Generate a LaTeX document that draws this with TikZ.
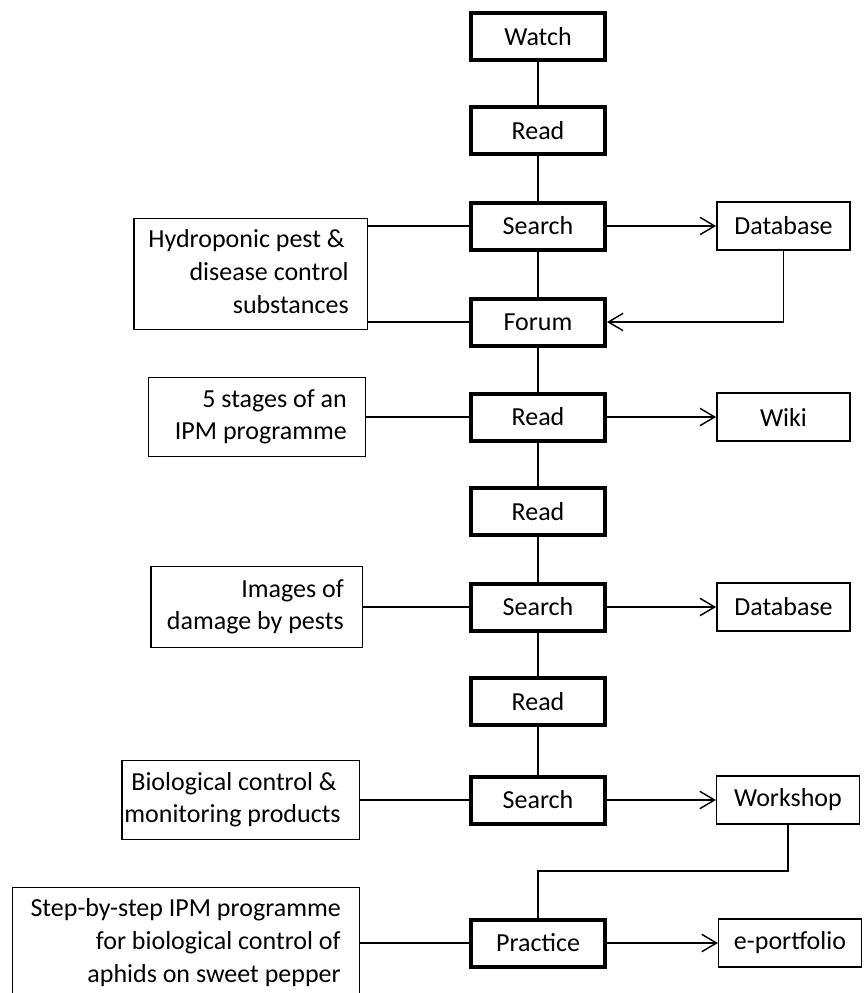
\documentclass[tikz,border=0pt]{standalone}
\usepackage{fontspec}
\setmainfont{Carlito}
\usetikzlibrary{arrows.meta}
\newcommand{\rlines}[1]{\begin{tabular}{@{}r@{}}#1\end{tabular}}
\newcommand{\amp}{\&\kern3pt}
\begin{document}
\begin{tikzpicture}[x=0.75pt,y=-0.75pt,
  every node/.style={font=\fontsize{19.5}{24.5}\selectfont, inner sep=0pt},
  mainbox/.style={draw, line width=3pt, minimum width=100.5pt, minimum height=35.25pt},
  sidebox/.style={draw, line width=1.1pt, minimum width=100pt, minimum height=36pt},
  srcbox/.style={draw, line width=1.1pt},
  srctext/.style={anchor=east, xshift=-14.25pt},
  link/.style={line width=1.1pt},
  arr/.style={link, -{Straight Barb[length=11pt,width=13pt,line width=1.1pt]}}
]
\useasboundingbox (0,0) rectangle (866,993);
\clip (0,0) rectangle (866,993);

% main column
\node[mainbox] (watch)    at (538,36.5)  {Watch};
\node[mainbox] (read1)    at (538,130.5) {Read};
\node[mainbox] (search1)  at (538,226)   {Search};
\node[mainbox] (forum)    at (538,322)   {Forum};
\node[mainbox] (read2)    at (538,417)   {Read};
\node[mainbox] (read3)    at (538,511.5) {Read};
\node[mainbox] (search2)  at (538,607)   {Search};
\node[mainbox] (read4)    at (538,701.5) {Read};
\node[mainbox] (search3)  at (538,800)   {Search};
\node[mainbox] (practice) at (538,943)   {Practice};

% right column
\node[sidebox] (db1)      at (783.5,226) {Database};
\node[sidebox] (wiki)     at (783.5,417) {Wiki};
\node[sidebox] (db2)      at (783.5,607) {Database};
\node[sidebox, minimum width=107pt] (workshop) at (788,800) {Workshop};
\node[sidebox, minimum width=107pt] (eport)    at (790,943) {e-portfolio};

% left column boxes
\node[srcbox, minimum width=175.1pt, minimum height=82.9pt] (hydro)  at (250.5,274) {};
\node[srctext] (hydrotext) at (hydro.east) {\rlines{Hydroponic pest \amp\\disease control\\substances}};
\node[srcbox, minimum width=162.4pt, minimum height=58.9pt] (ipm)    at (257,417) {};
\node[srctext] (ipmtext) at (ipm.east) {\rlines{5 stages of an\\IPM programme}};
\node[srcbox, minimum width=158.6pt, minimum height=60.4pt] (images) at (256.5,607) {};
\node[srctext] (imagestext) at (images.east) {\rlines{Images of\\damage by pests}};
\node[srcbox, minimum width=178.1pt, minimum height=59.6pt] (bio)    at (240.5,800) {};
\node[srctext] (biotext) at (bio.east) {\rlines{Biological control \amp\\monitoring products}};
\node[srcbox, minimum width=259.9pt, minimum height=82.9pt] (step)   at (186,943) {};
\node[srctext] (steptext) at (step.east) {\rlines{Step-by-step IPM programme\\for biological control of\\aphids on sweet pepper}};

% main column connectors
\draw[link] (watch) -- (read1);
\draw[link] (read1) -- (search1);
\draw[link] (search1) -- (forum);
\draw[link] (forum) -- (read2);
\draw[link] (read2) -- (read3);
\draw[link] (read3) -- (search2);
\draw[link] (search2) -- (read4);
\draw[link] (read4) -- (search3);

% left connectors
\draw[link] (hydro.east |- search1.west) -- (search1.west);
\draw[link] (hydro.east |- forum.west) -- (forum.west);
\draw[link] (ipm) -- (read2);
\draw[link] (images) -- (search2);
\draw[link] (bio) -- (search3);
\draw[link] (step) -- (practice);

% right connectors
\draw[arr] (search1) -- (db1);
\draw[arr] (db1.south) |- (forum.east);
\draw[arr] (read2) -- (wiki);
\draw[arr] (search2) -- (db2);
\draw[arr] (search3) -- (workshop);
\coordinate (wbend) at (788,871);
\draw[link] (workshop.south) -- (workshop.south |- wbend) -| (practice.north);
\draw[arr] (practice) -- (eport);
\end{tikzpicture}
\end{document}
